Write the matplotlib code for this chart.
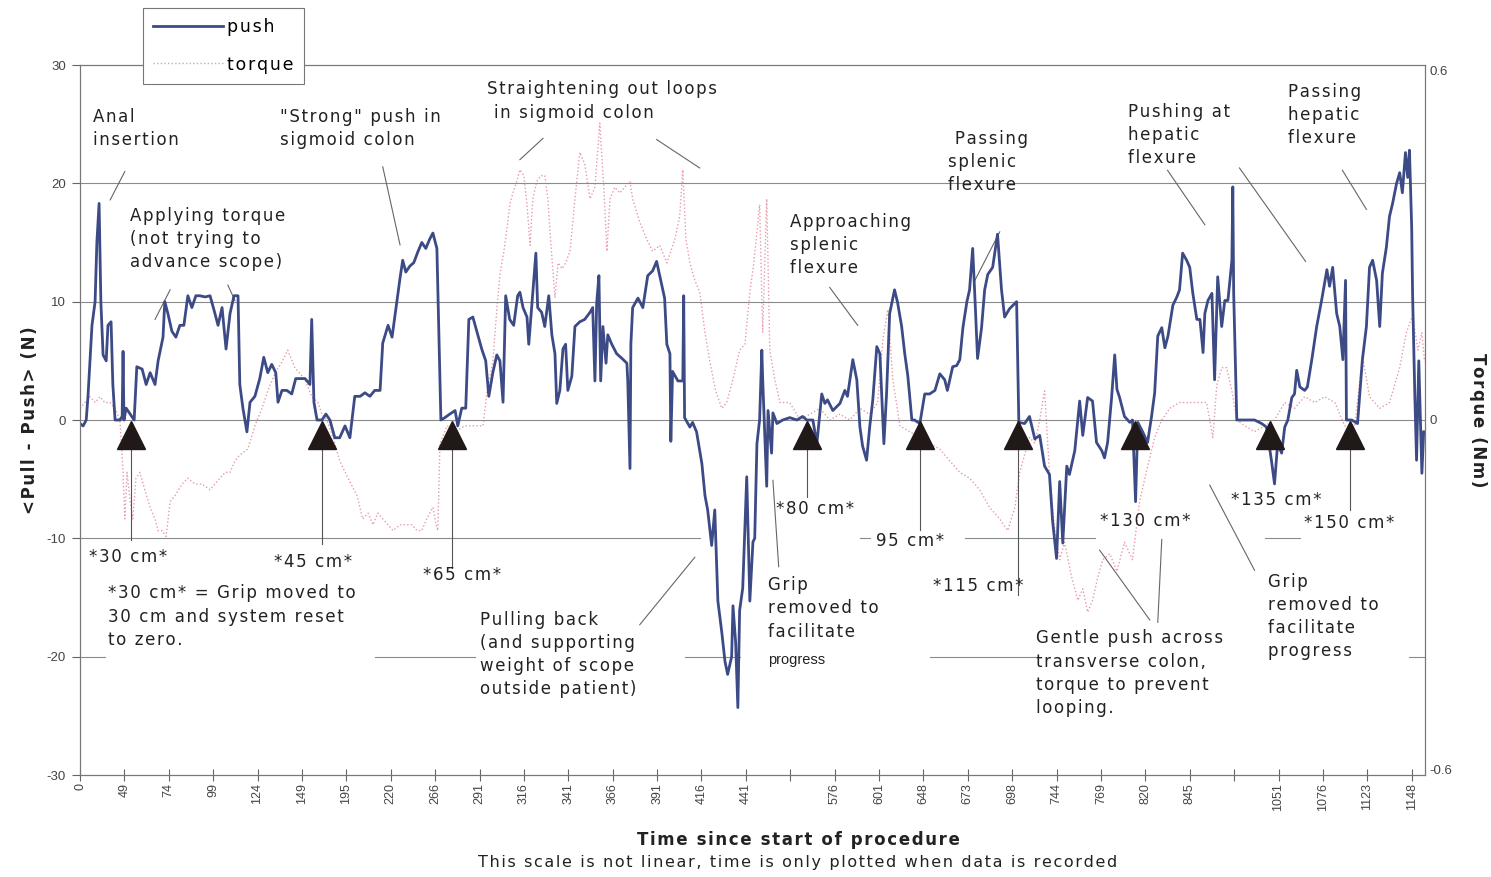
import numpy as np
import matplotlib.pyplot as plt
from matplotlib.lines import Line2D

plt.rcParams['axes.unicode_minus'] = False

# x axis is a sample counter (time is only plotted when data is recorded),
# one tick every 10 samples
tick_labels = ['0', '49', '74', '99', '124', '149', '195', '220', '266', '291', '316',
               '341', '366', '391', '416', '441', '', '576', '601', '648', '673', '698',
               '744', '769', '820', '845', '', '1051', '1076', '1123', '1148']

# <Pull - Push> force (N)
push_t = [0.0, 0.7, 1.4, 1.8, 2.7, 3.4, 3.8, 4.3, 4.7, 5.2, 5.9, 6.3, 7.0, 7.4, 7.9, 9.0, 9.5, 9.7,
          9.9, 10.4, 11.3, 12.2, 12.8, 14.0, 14.9, 15.8, 16.9, 17.6, 18.7, 19.1, 19.8, 20.7, 21.6,
          22.5, 23.4, 24.3, 25.2, 26.1, 27.0, 28.2, 29.3, 30.4, 31.1, 32.0, 32.9, 33.8, 34.7, 35.6,
          36.0, 36.7, 37.6, 38.3, 39.4, 40.5, 41.4, 42.3, 43.2, 44.1, 44.6, 45.5, 46.6, 47.7, 48.6,
          49.5, 50.7, 51.8, 52.2, 52.7, 53.4, 54.5, 55.4, 56.3, 57.4, 58.5, 59.7, 60.8, 61.9, 63.1,
          64.2, 65.3, 66.4, 67.6, 68.2, 69.4, 70.3, 71.2, 72.1, 72.7, 73.4, 74.3, 75.2, 76.1, 77.0,
          77.9, 78.8, 79.5, 80.4, 80.8, 81.3, 82.2, 83.3, 84.5, 85.1, 86.0, 86.9, 87.6, 88.5, 89.4,
          90.5, 91.4, 92.1, 93.0, 93.9, 94.6, 95.3, 95.9, 96.8, 97.7, 98.6,
          99.1, 99.8, 100.7, 101.1, 102.0, 102.7, 103.1, 104.0, 104.7, 105.6, 106.3, 107.0, 107.4,
          108.1, 108.8, 109.4, 109.9, 110.8, 111.5, 112.6, 113.7, 114.9, 115.5, 116.0, 116.4, 116.9,
          117.3, 117.8, 118.5, 118.9, 119.8, 120.9, 122.1, 123.2, 123.4, 123.9, 124.1, 124.5, 125.7,
          126.8, 127.9, 129.0, 129.9, 130.6, 131.7, 132.2, 132.9, 133.1, 133.5, 134.7, 135.8, 136.0,
          136.2, 137.4, 138.0, 138.9, 140.1, 140.8, 141.4, 142.3, 143.0, 143.7, 144.6, 145.3, 145.9,
          146.8, 147.1, 147.7, 148.2, 148.6, 149.3, 150.2, 150.9, 151.6, 152.0, 152.5, 153.1, 153.6,
          153.8, 154.7, 155.0, 155.8, 156.1, 157.0,
          158.3, 159.9, 161.5, 162.8, 163.7, 165.1, 166.0, 167.1, 167.8, 168.4, 169.6, 171.2, 172.3,
          172.9, 174.1, 175.0, 175.7, 176.3, 177.2, 177.9, 178.6, 179.5, 180.2, 180.6, 181.1, 181.7,
          182.4, 183.5, 184.2, 185.1, 185.8, 186.5, 187.4, 188.0, 189.2, 190.3, 191.4, 192.6, 193.7,
          194.8, 195.4, 196.6, 197.5, 198.2, 198.9, 199.8, 200.4, 201.1, 201.6, 202.2, 203.1, 203.8,
          204.5, 205.6, 206.7, 207.6, 208.3, 209.4, 211.0, 211.5, 212.8, 213.9, 215.1, 216.2, 217.3,
          218.4, 219.1, 220.0, 220.7, 221.4, 222.3, 222.9, 224.1, 225.2, 225.9, 227.0, 228.1, 229.0,
          230.2, 230.8, 231.5, 232.4, 233.1, 233.6, 234.2, 235.3, 236.5, 237.1, 237.8, 238.3, 239.4,
          240.5, 241.4, 242.1, 242.8, 243.7, 244.4, 245.1, 246.2, 247.1, 247.7, 248.4, 249.3, 250.0,
          250.7, 251.6, 252.3, 253.0, 253.4, 254.1, 255.0, 255.6, 256.3, 257.2, 257.9, 258.6, 259.5,
          259.7, 259.9, 260.6, 262.4, 264.6, 266.2, 267.3, 268.4, 269.1, 269.8, 270.7, 271.4, 272.1,
          273.0, 273.6, 274.1, 274.8, 275.9, 276.5, 277.5, 278.6, 279.7, 280.9, 281.5, 282.2, 283.1,
          283.8, 284.5, 285.1, 285.3, 286.5, 287.8, 288.3, 288.9, 289.8, 290.5, 291.2, 292.1, 292.8,
          293.4, 294.3, 295.0, 295.7, 296.6, 297.3, 297.9, 298.6, 299.1, 299.5, 300.0, 300.2, 300.7,
          301.1, 301.6, 302.3, 302.7]
push_n = [-0.3, -0.5, 0, 2, 8, 10, 15, 18.3, 10, 5.5, 5, 8, 8.3, 3, 0, 0, 0.3, 5.8,
          0, 1, 0.5, 0, 4.5, 4.3, 3, 4, 3, 5, 7, 10, 9, 7.5, 7,
          8, 8, 10.5, 9.5, 10.5, 10.5, 10.4, 10.5, 9, 8, 9.5, 6, 9, 10.5, 10.5,
          3, 1, -1, 1.5, 2, 3.5, 5.3, 4, 4.7, 4, 1.5, 2.5, 2.5, 2.2, 3.5,
          3.5, 3.5, 3, 8.5, 1.5, 0, 0, 0.5, 0, -1.5, -1.5, -0.5, -1.5, 2, 2,
          2.3, 2, 2.5, 2.5, 6.5, 8, 7, 9.5, 12, 13.5, 12.5, 13, 13.3, 14.2, 15,
          14.5, 15.3, 15.8, 14.5, 8, 0, 0.2, 0.5, 0.8, -0.5, 1, 1, 8.5, 8.7, 7.5,
          6, 5, 2, 4, 5.5, 5, 1.5, 10.5, 8.5, 8, 10.5,
          10.8, 9.5, 8.7, 6.4, 10.7, 14.1, 9.5, 9.1, 7.9, 10.5, 7.2, 5.6, 1.4,
          2.5, 6, 6.4, 2.5, 3.7, 7.9, 8.3, 8.5, 9.1, 9.5, 3.3, 9.9, 12.2,
          3.3, 7.9, 4.8, 7.2, 6.4, 5.6, 5.2, 4.8, 3.3, -4.1, 6.4, 9.5, 10.3,
          9.5, 12.2, 12.6, 13.4, 12.2, 10.3, 6.4, 5.6, -1.8, 4.1, 3.3, 3.3, 10.5,
          0.2, -0.6, -0.2, -1, -3.7, -6.4, -7.6, -10.6, -7.6, -15.3, -18, -20.4, -21.5,
          -20, -15.7, -18.8, -24.3, -16.1, -14.2, -4.8, -15.3, -10.3, -10, -2, 0, 5.9,
          3.4, -5.6, 0.8, -2.8, 0.6, -0.3,
          0, 0.2, 0, 0.3, 0, 0, -2, 2.2, 1.4, 1.7, 0.8, 1.4, 2.5,
          2, 5.1, 3.4, -0.6, -2.2, -3.4, -0.6, 1.7, 6.2, 5.6, 2.2, -2, 2.2,
          9, 11, 9.9, 7.9, 5.6, 3.7, 0, 0, -0.3, 2.2, 2.2, 2.5, 3.9,
          3.4, 2.5, 4.5, 4.6, 5.1, 7.8, 10, 11, 14.5, 10.4, 5.2, 7.8, 11,
          12.3, 12.9, 15.7, 11, 8.7, 9.4, 10, -0.2, -0.3, 0.3, -1.6, -1.3, -3.9,
          -4.6, -8.5, -11.7, -5.2, -10.4, -3.9, -4.6, -2.6, 1.6, -1.3, 1.9, 1.6, -1.9,
          -2.6, -3.2, -1.9, 1.9, 5.5, 2.6, 1.9, 0.3, -0.2, 0, -6.9, -0.2, -1,
          -1.9, 0.3, 2.3, 7.1, 7.8, 6.1, 7.1, 9.7, 10.4, 11, 14.1, 13.5, 12.9,
          10.7, 8.5, 8.5, 5.7, 9, 10.1, 10.7, 3.4, 12.1, 7.9, 10.1, 10.1, 13.5,
          19.7, 10.7, 0, 0, 0, -0.3, -0.6, -3.4, -5.4, -2, -2.8, -0.6, 0,
          1.9, 2.2, 4.2, 2.8, 2.5, 2.8, 5.1, 7.9, 10.1, 12.7, 11.3, 12.9, 9,
          7.9, 5.1, 11.8, 0, 0, -0.3, 2.2, 5.1, 7.9, 12.9, 13.5, 11.8, 7.9,
          12.4, 14.6, 17.2, 18.3, 20, 20.9, 19.2, 22.6, 20.5, 22.8, 16.3, 10.7, 2.2,
          -3.4, 5, -4.5, -1]

# torque (Nm)
torque_t = [0.0, 1.1, 2.3, 3.4, 4.5, 5.6, 6.8, 7.9, 9.0, 9.7, 10.1, 10.6, 11.3, 11.9, 12.6, 13.5,
            14.6, 15.8, 16.9, 17.6, 18.5, 19.4, 20.3, 21.4, 23.0, 24.3, 25.9, 27.5, 29.3, 30.4,
            31.5, 32.7, 33.8, 34.9, 36.0, 37.8, 39.4, 41.0, 42.3, 43.9, 45.5, 46.8, 48.4, 49.5,
            50.7, 52.2, 53.6, 54.5, 55.6, 57.0, 58.5, 60.4, 62.4, 63.7, 64.9, 66.0, 67.1, 68.2,
            69.4, 70.5, 72.1, 73.6, 74.8, 75.9, 77.0, 78.1, 79.5, 80.2, 80.6, 81.1, 82.7, 84.5,
            86.7, 89.0, 90.8, 91.7, 93.0, 93.9, 94.6, 95.5, 96.2, 96.8, 97.5, 98.4, 99.1, 100.0,
            100.7, 101.4, 102.0, 102.9, 103.8, 104.7, 105.4, 106.1, 107.0, 107.7, 108.6, 109.4,
            110.4, 111.5, 112.6, 113.7, 114.9, 116.0, 117.1, 118.0, 118.7, 119.4, 120.5, 121.6,
            122.7, 123.9, 124.5, 126.1, 127.7, 129.0, 130.6, 132.2, 134.0, 135.1, 135.8, 136.5,
            137.4, 138.5, 139.6, 140.8, 141.9, 143.2, 144.6, 145.7, 147.1, 148.6, 149.8, 150.9,
            151.8, 152.7, 153.1, 153.8, 154.7, 155.4, 156.5, 157.7, 159.9, 162.2, 164.4, 166.7,
            168.9, 171.2, 173.4, 175.7, 177.9, 179.7, 180.9, 182.0, 183.1, 184.7, 186.9, 189.2,
            191.4, 193.7, 195.9, 198.2, 200.4, 202.7, 204.9, 207.2, 209.0, 210.6, 211.7, 212.8,
            213.9, 215.1, 216.2, 217.3, 218.4, 219.6, 220.7, 221.8, 223.4, 224.8, 225.9, 227.0,
            228.1, 229.3, 230.4, 232.0, 233.6, 235.3, 237.1, 238.7, 240.5, 242.1, 243.7, 245.5,
            247.7, 250.0, 252.3, 253.8, 255.2, 256.1, 257.2, 258.3, 259.5, 260.6, 262.4, 264.6,
            266.9, 269.1, 271.4, 273.6, 275.9, 278.2, 280.4, 282.7, 284.9, 287.2, 288.9, 290.5,
            292.8, 295.0, 297.3, 298.8, 300.2, 301.4, 302.3, 302.9]
torque_nm = [0.02, 0.03, 0.04, 0.03, 0.04, 0.03, 0.03, 0.02, 0.00, -0.09, -0.17, -0.09, -0.14, -0.17,
             -0.10, -0.09, -0.12, -0.15, -0.17, -0.19, -0.19, -0.20, -0.14, -0.13, -0.11, -0.10,
             -0.11, -0.11, -0.12, -0.11, -0.10, -0.09, -0.09, -0.07, -0.06, -0.05, -0.01, 0.02,
             0.05, 0.08, 0.10, 0.12, 0.09, 0.08, 0.07, 0.04, 0.03, 0.01, 0.00, -0.03, -0.07, -0.10,
             -0.13, -0.17, -0.16, -0.18, -0.16, -0.17, -0.18, -0.19, -0.18, -0.18, -0.18, -0.19,
             -0.19, -0.17, -0.15, -0.18, -0.19, -0.04, -0.01, -0.02, -0.01, -0.01, -0.01, 0.05,
             0.10, 0.19, 0.25, 0.29, 0.33, 0.37, 0.39, 0.41, 0.43, 0.42, 0.37, 0.30, 0.38, 0.41,
             0.42, 0.42, 0.38, 0.30, 0.21, 0.27, 0.26, 0.27, 0.29, 0.38, 0.46, 0.44, 0.38, 0.40,
             0.51, 0.40, 0.29, 0.38, 0.40, 0.39, 0.40, 0.41, 0.38, 0.34, 0.31, 0.29, 0.30, 0.27,
             0.31, 0.35, 0.43, 0.31, 0.27, 0.24, 0.22, 0.15, 0.10, 0.05, 0.02, 0.03, 0.07, 0.12,
             0.13, 0.22, 0.27, 0.34, 0.37, 0.15, 0.38, 0.12, 0.07, 0.03, 0.03, 0.00, 0.01, 0.02,
             0.00, 0.01, 0.00, 0.02, 0.01, 0.03, 0.14, 0.19, 0.07, -0.01, -0.02, -0.03, -0.04,
             -0.05, -0.07, -0.09, -0.10, -0.12, -0.15, -0.17, -0.19, -0.15, -0.09, -0.06, -0.03,
             -0.04, 0.00, 0.05, -0.09, -0.19, -0.24, -0.21, -0.27, -0.31, -0.29, -0.33, -0.31,
             -0.27, -0.24, -0.23, -0.26, -0.21, -0.24, -0.14, -0.08, -0.03, 0.00, 0.02, 0.03,
             0.03, 0.03, 0.03, -0.03, 0.06, 0.09, 0.09, 0.05, 0.00, -0.01, -0.02, -0.01, 0.00,
             0.03, 0.02, 0.04, 0.03, 0.04, 0.03, -0.01, -0.01, 0.11, 0.04, 0.02, 0.03, 0.09, 0.15,
             0.18, 0.12, 0.15, 0.10]

# grip repositioning events
grip_t = [11.5, 54.5, 83.8, 163.7, 189.2, 211.2, 237.6, 268.0, 286.0]
grip_labels = ['*30 cm*', '*45 cm*', '*65 cm*', '*80 cm*', '95 cm*', '*115 cm*',
               '*130 cm*', '*135 cm*', '*150 cm*']

BLUE = '#3c4a86'
PINK = '#e79aaa'
GRID = '#8a8a8a'
TXT = '#222222'


def spaced(s):
    # the source chart uses letter-spaced text: put a hair space between letters
    return '\n'.join('\u200a'.join(line) for line in s.split('\n'))


fig = plt.figure(figsize=(14.91, 8.77), dpi=100)
ax = fig.add_axes([80 / 1491, 102 / 877, 1345 / 1491, 710 / 877])
ax2 = ax.twinx()
ax.set_zorder(ax2.get_zorder() + 1)
ax.patch.set_visible(False)

ax2.plot(torque_t, torque_nm, color=PINK, lw=1.0, ls=(0, (1, 1.6)))
ax.plot(push_t, push_n, color=BLUE, lw=2.0, zorder=2)

# grid lines (the lower ones are partly hidden behind text boxes)
for v in (20, 10, 0):
    ax.axhline(v, color=GRID, lw=0.8, zorder=0.5)
m10 = [(0, 139.6), (175.7, 177.9), (199.3, 228.6), (266.9, 274.8)]
m20 = [(0, 5.6), (66.4, 88.9), (136.3, 148.6), (191.4, 215.1), (299.5, 303)]
for y, spans in ((-10, m10), (-20, m20)):
    for a, b in spans:
        ax.plot([a, b], [y, y], color=GRID, lw=0.8, zorder=0.5)

# grip markers, drop lines and labels
ax.plot(grip_t, [-1.25] * len(grip_t), ls='none', marker='^', ms=20,
        color='#211818', zorder=4)
drop_end = [-10.1, -10.5, -12.5, -6.5, -9.3, -14.8, None, None, -7.6]
for t, y1 in zip(grip_t, drop_end):
    if y1 is not None:
        ax.plot([t, t], [-2.5, y1], color='#555555', lw=0.8, zorder=1)
lab_pos = [(10.8, -11.6), (52.5, -12.0), (86.0, -13.1), (165.5, -7.5), (186.9, -10.2),
           (202.3, -14.0), (239.9, -8.5), (269.6, -6.8), (286.0, -8.7)]
for (x, y), s in zip(lab_pos, grip_labels):
    ax.text(x, y, spaced(s), ha='center', va='center', fontsize=12, color=TXT)

# annotations
notes = [
    (2.9, 26.4, 'Anal\ninsertion'),
    (11.3, 18.0, 'Applying torque\n(not trying to\nadvance scope)'),
    (45.0, 26.4, '"Strong" push in\nsigmoid colon'),
    (91.7, 28.7, 'Straightening out loops\n in sigmoid colon'),
    (195.5, 24.5, ' Passing\nsplenic\nflexure'),
    (159.9, 17.5, 'Approaching\nsplenic\nflexure'),
    (236.0, 26.8, 'Pushing at\nhepatic\nflexure'),
    (272.1, 28.5, 'Passing\nhepatic\nflexure'),
    (90.1, -16.1, 'Pulling back\n(and supporting\nweight of scope\noutside patient)'),
    (155.0, -13.2, 'Grip\nremoved to\nfacilitate'),
    (215.3, -17.7, 'Gentle push across\ntransverse colon,\ntorque to prevent\nlooping.'),
    (267.6, -12.9, 'Grip\nremoved to\nfacilitate\nprogress'),
    (6.3, -13.9, '*30 cm* = Grip moved to\n30 cm and system reset\nto zero.'),
]
for x, y, s in notes:
    ax.text(x, y, spaced(s), ha='left', va='top', fontsize=12, color=TXT, linespacing=1.37)
ax.text(155.0, -20.3, 'progress', ha='left', va='center', fontsize=10.5,
        family='Liberation Sans', color=TXT)

leaders = [((10.1, 21.0), (6.8, 18.6)), ((20.3, 11.0), (16.9, 8.5)),
           ((33.3, 11.4), (34.9, 10.1)), ((68.2, 21.4), (72.1, 14.8)),
           ((104.3, 23.8), (99.1, 22.0)), ((129.9, 23.7), (139.6, 21.3)),
           ((207.2, 15.9), (201.6, 11.8)), ((168.9, 11.2), (175.2, 8.0)),
           ((245.0, 21.1), (253.4, 16.5)), ((261.2, 21.3), (276.1, 13.4)),
           ((284.4, 21.1), (289.8, 17.8)), ((126.1, -17.3), (138.5, -11.6)),
           ((157.4, -12.4), (156.1, -5.1)), ((241.0, -16.9), (229.7, -11.0)),
           ((242.8, -17.1), (243.7, -10.1)), ((264.6, -12.7), (254.5, -5.5))]
for (x0, y0), (x1, y1) in leaders:
    ax.plot([x0, x1], [y0, y1], color='#666666', lw=0.8, zorder=1)

# axes
ax.set_xlim(0, 303)
ax.set_ylim(-30, 30)
ax.set_yticks(range(-30, 31, 10))
ax.set_xticks(range(0, 301, 10))
ax.set_xticklabels(tick_labels, rotation=90, family='Liberation Sans', fontsize=9, color='#444444')
for lab in ax.get_yticklabels():
    lab.set_family('Liberation Sans')
ax.tick_params(axis='y', labelsize=9.5, labelcolor='#444444', direction='out', length=6,
               width=0.8, color='#666666', pad=4)
ax.tick_params(axis='x', direction='inout', length=8, width=0.8, color='#666666', pad=2)
ax2.set_ylim(-0.61, 0.61)
ax2.set_yticks([-0.6, 0, 0.6])
ax2.set_yticklabels(['-0.6', '0', '0.6'], family='Liberation Sans')
ax2.tick_params(axis='y', length=0, pad=3, labelsize=9.5, labelcolor='#444444')
for a in (ax, ax2):
    for sp in a.spines.values():
        sp.set_color('#777777')
        sp.set_linewidth(0.8)

fig.text(30 / 1491, 1 - 420 / 877, spaced('<Pull - Push> (N)'), rotation=90, ha='center',
         va='center', fontsize=12, fontweight='bold', color=TXT)
fig.text(1478 / 1491, 1 - 420 / 877, spaced('Torque (Nm)'), rotation=270, ha='center',
         va='center', fontsize=12, fontweight='bold', color=TXT)
fig.text(798 / 1491, 1 - 840 / 877, spaced('Time since start of procedure'), ha='center',
         va='center', fontsize=12, fontweight='bold', color=TXT)
fig.text(798 / 1491, 1 - 863 / 877,
         spaced('This scale is not linear, time is only plotted when data is recorded'),
         ha='center', va='center', fontsize=11.5, color=TXT)

handles = [Line2D([], [], color=BLUE, lw=2.0),
           Line2D([], [], color=PINK, lw=1.0, ls=(0, (1, 1.6)))]
leg = fig.legend(handles, [spaced('push'), spaced('torque')], loc='upper left',
                 bbox_to_anchor=(143 / 1491, 1 - 8 / 877), fancybox=False, edgecolor='#777777',
                 framealpha=1, fontsize=12.5, handlelength=4.0, handletextpad=0.25,
                 labelspacing=1.1, borderpad=0.6, borderaxespad=0)
leg.get_frame().set_linewidth(0.8)

fig.savefig('out.png', dpi=100, facecolor='white')
